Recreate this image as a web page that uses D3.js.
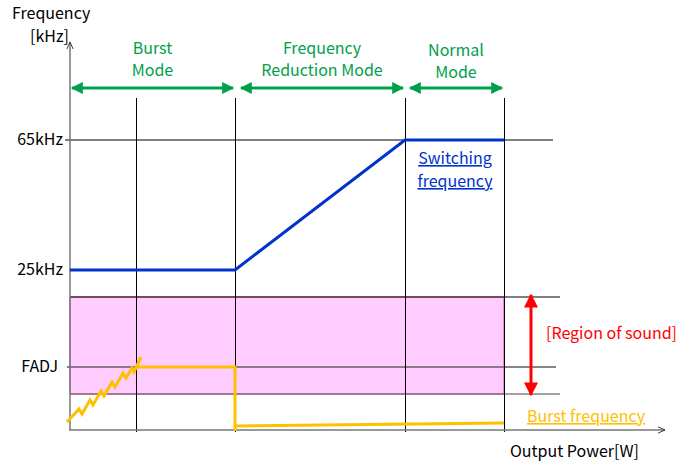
<!DOCTYPE html>
<html><head><meta charset="utf-8">
<script src="https://cdn.jsdelivr.net/npm/d3@7"></script>
<style>body{margin:0;background:#fff}svg text{font-family:"Noto Sans CJK JP","Liberation Sans",sans-serif;font-size:16px}</style>
</head><body><svg id="c" width="694" height="464"></svg>
<script>
// Data (arbitrary power units on x, arbitrary frequency-level units on y)
const modeBounds = [66, 165, 335, 434];            // x positions of mode boundaries
const modes = [
  {name:["Burst","Mode"], x0:2, x1:163},
  {name:["Frequency","Reduction Mode"], x0:171, x1:333},
  {name:["Normal","Mode"], x0:340, x1:432}
];
const yTickLabels = ["65kHz","25kHz","FADJ"];
const yTickValues = [290, 160, 63];
const switchingFreq = [[0,160],[165,160],[335,290],[434,290]];
const burstRamp = [[-3,8],[9,21],[12,16],[20,30],[23,25],[31,39],[34,34],[42,48],[45,43],[53,57],[56,52],[62,62],[64,58],[71,73]];
const burstFlat = [[66,63],[165,63],[165,-1]];
const burstLow = [[165,4],[434,7]];
const soundRegion = {y0:36, y1:133, x0:0, x1:434};

const svg = d3.select("#c");
const x = d3.scaleLinear().domain([0,595]).range([70,665]);
const y = d3.scaleLinear().domain([0,390]).range([430,40]);
const line = d3.line().x(d=>x(d[0])).y(d=>y(d[1]));

const defs = svg.append("defs");
function marker(id,color,w,h){
  defs.append("marker").attr("id",id).attr("viewBox","0 0 10 10").attr("refX",9).attr("refY",5)
   .attr("markerWidth",w).attr("markerHeight",h).attr("orient","auto-start-reverse").attr("markerUnits","userSpaceOnUse")
   .append("path").attr("d","M0,0 L10,5 L0,10 Z").attr("fill",color);
}
marker("ag","#00A04C",14,12);
marker("ar","#FF0000",14,14);
defs.append("marker").attr("id","ax").attr("viewBox","0 0 10 10").attr("refX",9).attr("refY",5)
  .attr("markerWidth",8).attr("markerHeight",8).attr("orient","auto").attr("markerUnits","userSpaceOnUse")
  .append("path").attr("d","M0,1 L9,5 L0,9").attr("fill","none").attr("stroke","#333").attr("stroke-width",1.2);

// Sound region
svg.append("rect").attr("x",x(soundRegion.x0)).attr("y",y(soundRegion.y1))
  .attr("width",x(soundRegion.x1)-x(soundRegion.x0)).attr("height",y(soundRegion.y0)-y(soundRegion.y1))
  .attr("fill","#FFCCFF").attr("stroke","#E07AAA").attr("stroke-width",1.5);

// Horizontal reference lines
const hLines = [[290,-5,483,"#000",1],[133,0,490,"#000",1],[63,-3,486,"#7a6a7a",2],[36,0,490,"#7a6a7a",1.5]];
hLines.forEach(h=>svg.append("line").attr("x1",x(h[1])).attr("x2",x(h[2])).attr("y1",y(h[0])).attr("y2",y(h[0]))
  .attr("stroke",h[3]).attr("stroke-width",h[4]).attr("opacity",h[3]==="#000"?1:0.85));

// Vertical mode boundaries
modeBounds.forEach(b=>svg.append("line").attr("x1",Math.round(x(b))+0.5).attr("x2",Math.round(x(b))+0.5)
  .attr("y1",y(332)).attr("y2",y(-2)).attr("stroke","#000").attr("stroke-width",1));

// Axes
svg.append("line").attr("x1",x(0)).attr("x2",x(0)).attr("y1",y(0)).attr("y2",y(388))
  .attr("stroke","#777").attr("stroke-width",1.5).attr("marker-end","url(#ax)");
svg.append("line").attr("x1",x(-1)).attr("x2",x(595)).attr("y1",y(0)).attr("y2",y(0))
  .attr("stroke","#777").attr("stroke-width",1.5).attr("marker-end","url(#ax)");

// Y tick labels
yTickLabels.forEach((t,i)=>svg.append("text").attr("x",i==2?58:63).attr("y",y(yTickValues[i])+5)
  .attr("text-anchor","end").attr("fill","#000").text(t));

// Lines
svg.append("path").attr("d",line(switchingFreq)).attr("fill","none").attr("stroke","#0033CC").attr("stroke-width",3);
[burstRamp,burstFlat,burstLow].forEach(p=>svg.append("path").attr("d",line(p)).attr("fill","none")
  .attr("stroke","#FFC000").attr("stroke-width",3).attr("stroke-linejoin","miter"));

// Mode arrows
modes.forEach(m=>{
  svg.append("line").attr("x1",x(m.x0)).attr("x2",x(m.x1)).attr("y1",y(342)).attr("y2",y(342))
    .attr("stroke","#00A04C").attr("stroke-width",3).attr("marker-start","url(#ag)").attr("marker-end","url(#ag)");
  const cx = (x(m.x0)+x(m.x1))/2;
  m.name.forEach((n,j)=>svg.append("text").attr("x",cx).attr("y",(m.name[0]==="Normal"?56:54)+j*22)
    .attr("text-anchor","middle").attr("fill","#00A04C").text(n));
});

// Region arrow
svg.append("line").attr("x1",531).attr("x2",531).attr("y1",y(135)).attr("y2",y(35))
  .attr("stroke","#FF0000").attr("stroke-width",3).attr("marker-start","url(#ar)").attr("marker-end","url(#ar)");
svg.append("text").attr("x",546).attr("y",339).attr("fill","#FF0000").text("[Region of sound]");

// Labels
svg.append("text").attr("x",12).attr("y",19).attr("fill","#000").text("Frequency");
svg.append("text").attr("x",30).attr("y",42).attr("fill","#000").text("[kHz]");
svg.append("text").attr("x",510).attr("y",457).attr("fill","#000").text("Output Power[W]");
svg.append("text").attr("x",455).attr("y",164).attr("text-anchor","middle").attr("fill","#0033CC").attr("text-decoration","underline").text("Switching");
svg.append("text").attr("x",455).attr("y",187).attr("text-anchor","middle").attr("fill","#0033CC").attr("text-decoration","underline").text("frequency");
svg.append("text").attr("x",527).attr("y",422).attr("fill","#FFC000").attr("text-decoration","underline").text("Burst frequency");
</script></body></html>
